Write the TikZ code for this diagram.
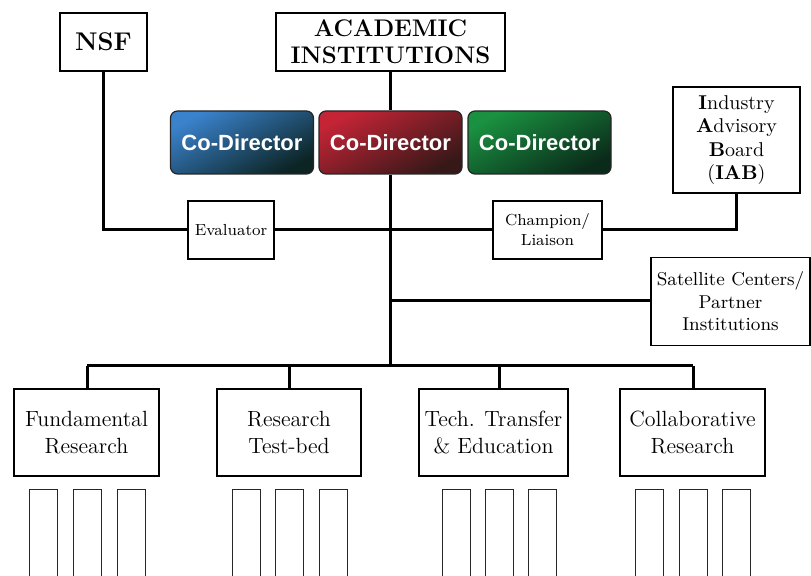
\documentclass[tikz,border=0pt]{standalone}
\usepackage{fontspec}
\newfontfamily\arialfont{Liberation Sans}
\definecolor{bluetl}{HTML}{3A82CC}
\definecolor{bluemd}{HTML}{225A8A}
\definecolor{bluebr}{HTML}{0C2424}
\definecolor{redtl}{HTML}{C42436}
\definecolor{redmd}{HTML}{8A2230}
\definecolor{redbr}{HTML}{361818}
\definecolor{greentl}{HTML}{1A9140}
\definecolor{greenmd}{HTML}{13652F}
\definecolor{greenbr}{HTML}{0A2A1A}
\tikzset{
  box/.style={draw=black, line width=0.75pt, fill=white, align=center, inner sep=0pt},
  codir/.style={draw=black!85, line width=0.6pt, rounded corners=3.5pt, align=center,
    inner sep=0pt, minimum width=71.5pt, minimum height=31.5pt,
    font=\arialfont\bfseries\fontsize{11}{13}\selectfont, text=white},
  link/.style={line width=1.5pt},
  pillar/.style={draw=black!85, line width=0.5pt},
}
\begin{document}
\begin{tikzpicture}[x=0.5pt, y=-0.5pt]
\clip (0,0) rectangle (811,576);
\fill[white] (0,0) rectangle (811,576);

% top boxes
\node[box, minimum width=43.5pt, minimum height=29pt, font=\bfseries\fontsize{12.8}{14}\selectfont] (nsf) at (103.5,42) {NSF};
\node[box, minimum width=114.5pt, minimum height=29pt, font=\bfseries\fontsize{12}{13.5}\selectfont] (acad) at (390.5,42) {ACADEMIC\\INSTITUTIONS};

% co-directors
\node[codir, top color=bluetl, middle color=bluemd, bottom color=bluebr, shading angle=28] (cblue) at (242,142.5) {Co-Director};
\node[codir, top color=redtl, middle color=redmd, bottom color=redbr, shading angle=28] (cred) at (390.5,142.5) {Co-Director};
\node[codir, top color=greentl, middle color=greenmd, bottom color=greenbr, shading angle=28] (cgreen) at (539.5,142.5) {Co-Director};

% IAB, evaluator, champion
\node[box, minimum width=63.5pt, minimum height=53pt, font=\fontsize{10}{11.6}\selectfont] (iab) at (736.5,140)
  {\textbf{I}ndustry\\\textbf{A}dvisory\\\textbf{B}oard\\(\textbf{IAB})};
\node[box, minimum width=43pt, minimum height=29pt, font=\fontsize{8}{10}\selectfont] (eval) at (231,230) {Evaluator};
\node[box, minimum width=54.5pt, minimum height=29pt, font=\fontsize{8}{10}\selectfont] (champ) at (547.5,230) {Champion/\\Liaison};
\node[box, minimum width=79.5pt, minimum height=44pt, font=\fontsize{9.3}{11.3}\selectfont] (sat) at (730.5,301.5) {Satellite Centers/\\Partner\\Institutions};

% bottom boxes
\tikzset{bottombox/.style={box, minimum height=43.5pt, font=\fontsize{11}{13.5}\selectfont}}
\node[bottombox, minimum width=72.5pt] (fund) at (86.5,432.5) {Fundamental\\Research};
\node[bottombox, minimum width=72pt] (rtb) at (289,432.5) {Research\\Test-bed};
\node[bottombox, minimum width=74.5pt] (ttr) at (493.5,432.5) {Tech. Transfer\\\& Education};
\node[bottombox, minimum width=72.5pt] (col) at (692.5,432.5) {Collaborative\\Research};

% coordinates
\coordinate (spine) at (390.5,366);
\coordinate (sp) at (390.5,301);
\coordinate (b1) at (87,366);
\coordinate (b2) at (289,366);
\coordinate (b3) at (499,366);
\coordinate (b4) at (693,366);

% connectors
\draw[link] (acad.south) -- (cred.north);
\draw[link] (cred.south) -- (spine);
\draw[link] (nsf.south) |- (eval.west);
\draw[link] (eval.east) -- (champ.west);
\draw[link] (iab.south) |- (champ.east);
\draw[link] (sp) -- (sp -| sat.west);
\draw[link] (b1) -- (b4);
\draw[link] (b1) -- (b1 |- fund.north);
\draw[link] (b2) -- (b2 |- rtb.north);
\draw[link] (b3) -- (b3 |- ttr.north);
\draw[link] (b4) -- (b4 |- col.north);

% pillars
\foreach \x in {29,73,117, 232,275,319, 442,485,528, 635,679,722}{
  \draw[pillar] (\x,600) -- (\x,489.5) -- (\x+28,489.5) -- (\x+28,600);
}
\end{tikzpicture}
\end{document}
